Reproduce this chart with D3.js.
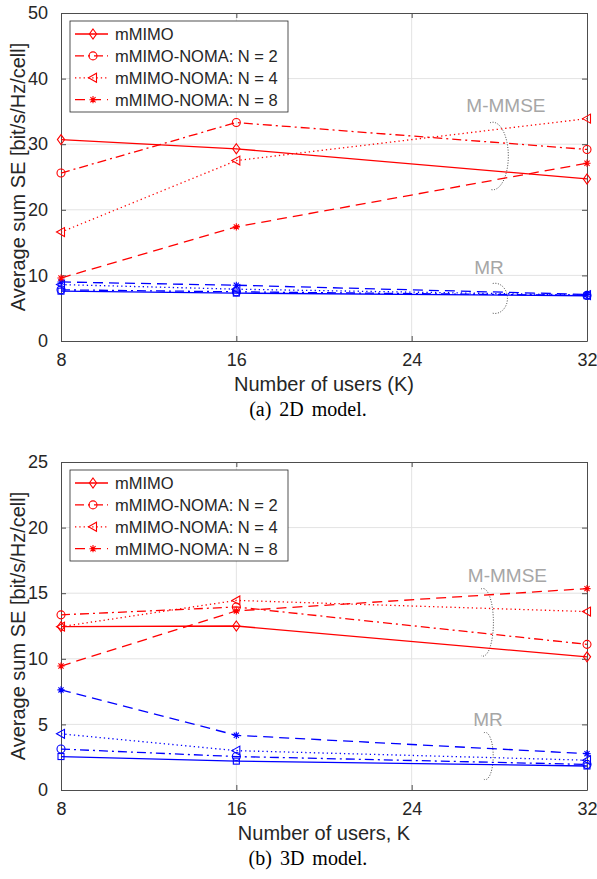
<!DOCTYPE html>
<html>
<head>
<meta charset="utf-8">
<script src="https://cdn.jsdelivr.net/npm/d3@7"></script>
<style>
  body { margin: 0; background: #fff; }
  svg { display: block; }
  text { font-family: "Liberation Sans", Arial, sans-serif; fill: #262626; }
</style>
</head>
<body>
<script>
const users = [8, 16, 32];
const xTicks = [8, 16, 24, 32];
const seriesNames = ["mMIMO", "mMIMO-NOMA: N = 2", "mMIMO-NOMA: N = 4", "mMIMO-NOMA: N = 8"];

// (a) 2D model — M-MMSE (red), one row per series
const mmse2D = [
	[30.7, 29.3, 24.7],
	[25.6, 33.3, 29.2],
	[16.6, 27.5, 33.9],
	[9.6, 17.4, 27.1]
];
// (a) 2D model — MR (blue)
const mr2D = [
	[7.6, 7.3, 6.9],
	[7.8, 7.5, 6.95],
	[8.6, 7.9, 7.0],
	[9.0, 8.5, 7.1]
];
// (b) 3D model — M-MMSE (red)
const mmse3D = [
	[12.45, 12.5, 10.15],
	[13.35, 13.95, 11.1],
	[12.45, 14.45, 13.6],
	[9.45, 13.65, 15.35]
];
// (b) 3D model — MR (blue)
const mr3D = [
	[2.55, 2.2, 1.83],
	[3.12, 2.55, 1.95],
	[4.28, 3.0, 2.27],
	[7.63, 4.17, 2.77]
];

const yTicks2D = [0, 10, 20, 30, 40, 50];
const yTicks3D = [0, 5, 10, 15, 20, 25];

// annotation ellipses (data coords)
const annot2D = [
	{ label: "M-MMSE", cx: 27.7, cy: 28.2, rx: 0.71, ry: 5.15, tx: 28.3, ty: 34.95 },
	{ label: "MR", cx: 27.8, cy: 6.5, rx: 0.57, ry: 2.3, tx: 27.53, ty: 10.2 }
];
const annot3D = [
	{ label: "M-MMSE", cx: 27.25, cy: 12.78, rx: 0.48, ry: 2.58, tx: 28.37, ty: 15.88 },
	{ label: "MR", cx: 27.36, cy: 2.59, rx: 0.36, ry: 1.8, tx: 27.48, ty: 4.9 }
];

const W = 597, H = 879;
const left = 61, right = 587;

const dashes = [null, "9,4,2,4", "1.3,3", "10,6"];
const redMarkers = ["diamond", "circle", "triangle", "asterisk"];
const blueMarkers = ["square", "circle", "triangle", "asterisk"];

const svg = d3.select("body").append("svg")
	.attr("width", W)
	.attr("height", H);

const drawMarker = (g, type, x, y, color) => {
	if (type === "diamond") {
		g.append("path").attr("d", `M${x},${y - 5}L${x + 3.6},${y}L${x},${y + 5}L${x - 3.6},${y}Z`)
			.attr("fill", "none").attr("stroke", color).attr("stroke-width", 1.1);
	} else if (type === "circle") {
		g.append("circle").attr("cx", x).attr("cy", y).attr("r", 4)
			.attr("fill", "none").attr("stroke", color).attr("stroke-width", 1.1);
	} else if (type === "square") {
		g.append("rect").attr("x", x - 3).attr("y", y - 3).attr("width", 6).attr("height", 6)
			.attr("fill", "none").attr("stroke", color).attr("stroke-width", 1.1);
	} else if (type === "triangle") {
		g.append("path").attr("d", `M${x - 4.5},${y}L${x + 3.5},${y - 4.5}L${x + 3.5},${y + 4.5}Z`)
			.attr("fill", "none").attr("stroke", color).attr("stroke-width", 1.1);
	} else if (type === "asterisk") {
		const r = 3.6, d = r * 0.72;
		g.append("path")
			.attr("d", `M${x - r},${y}L${x + r},${y}M${x},${y - r}L${x},${y + r}M${x - d},${y - d}L${x + d},${y + d}M${x - d},${y + d}L${x + d},${y - d}`)
			.attr("stroke", color).attr("stroke-width", 1.1);
	}
};

const drawPanel = (cfg) => {
	const g = svg.append("g");
	const x = d3.scaleLinear().domain([8, 32]).range([left, right]);
	const y = d3.scaleLinear().domain([0, cfg.yMax]).range([cfg.bottom, cfg.top]);

	// grid
	g.append("g").selectAll("line").data(xTicks.slice(1, -1)).join("line")
		.attr("x1", (d) => x(d)).attr("x2", (d) => x(d))
		.attr("y1", cfg.top).attr("y2", cfg.bottom)
		.attr("stroke", "#e3e3e3").attr("stroke-width", 1);
	g.append("g").selectAll("line").data(cfg.yTicks.slice(1, -1)).join("line")
		.attr("x1", left).attr("x2", right)
		.attr("y1", (d) => y(d)).attr("y2", (d) => y(d))
		.attr("stroke", "#e3e3e3").attr("stroke-width", 1);

	// axes with inward ticks
	const axB = g.append("g").attr("transform", `translate(0,${cfg.bottom})`)
		.call(d3.axisBottom(x).tickValues(xTicks).tickSizeInner(-5).tickSizeOuter(0).tickPadding(12));
	const axT = g.append("g").attr("transform", `translate(0,${cfg.top})`)
		.call(d3.axisTop(x).tickValues(xTicks).tickSizeInner(-5).tickSizeOuter(0).tickFormat(""));
	const axL = g.append("g").attr("transform", `translate(${left},0)`)
		.call(d3.axisLeft(y).tickValues(cfg.yTicks).tickSizeInner(-5).tickSizeOuter(0).tickPadding(13));
	const axR = g.append("g").attr("transform", `translate(${right},0)`)
		.call(d3.axisRight(y).tickValues(cfg.yTicks).tickSizeInner(-5).tickSizeOuter(0).tickFormat(""));
	[axB, axT, axL, axR].forEach((a) => {
		a.select(".domain").attr("stroke", "#4d4d4d");
		a.selectAll(".tick line").attr("stroke", "#4d4d4d");
		a.selectAll("text").attr("font-size", 18).attr("fill", "#262626")
			.attr("font-family", "Liberation Sans, Arial, sans-serif");
	});

	// annotations
	cfg.annot.forEach((a) => {
		const pts = [];
		for (let t = -100; t <= 100; t += 4) {
			const r = (t * Math.PI) / 180;
			pts.push([x(a.cx) + (x(a.cx + a.rx) - x(a.cx)) * Math.cos(r),
				y(a.cy) + (y(a.cy - a.ry) - y(a.cy)) * Math.sin(r)]);
		}
		g.append("path").attr("d", d3.line().curve(d3.curveCatmullRom)(pts))
			.attr("fill", "none").attr("stroke", "#444").attr("stroke-width", 1)
			.attr("stroke-dasharray", "1,1.6");
		g.append("text").attr("x", x(a.tx)).attr("y", y(a.ty))
			.attr("text-anchor", "middle").attr("font-size", 19)
			.style("fill", "#a6a6a6").text(a.label);
	});

	// series
	const line = d3.line().x((d, i) => x(users[i])).y((d) => y(d));
	const groups = [
		{ data: cfg.blue, color: "#0000ff", markers: blueMarkers },
		{ data: cfg.red, color: "#ff0000", markers: redMarkers }
	];
	groups.forEach((grp) => {
		grp.data.forEach((vals, s) => {
			g.append("path").attr("d", line(vals))
				.attr("fill", "none").attr("stroke", grp.color).attr("stroke-width", 1.3)
				.attr("stroke-dasharray", dashes[s]);
			vals.forEach((v, i) => drawMarker(g, grp.markers[s], x(users[i]), y(v), grp.color));
		});
	});

	// legend
	const lg = g.append("g").attr("transform", `translate(${left + 9},${cfg.top + 8})`);
	lg.append("rect").attr("width", 218).attr("height", 91)
		.attr("fill", "#fff").attr("stroke", "#262626").attr("stroke-width", 0.8);
	seriesNames.forEach((name, s) => {
		const ly = 13 + s * 21.9;
		lg.append("line").attr("x1", 5).attr("x2", 38).attr("y1", ly).attr("y2", ly)
			.attr("stroke", "#ff0000").attr("stroke-width", 1.3).attr("stroke-dasharray", dashes[s]);
		drawMarker(lg, redMarkers[s], 23, ly, "#ff0000");
		lg.append("text").attr("x", 45).attr("y", ly + 6).attr("font-size", 16.5).text(name);
	});

	// labels
	g.append("text").attr("x", (left + right) / 2).attr("y", cfg.bottom + 50)
		.attr("text-anchor", "middle").attr("font-size", 20).text(cfg.xLabel);
	g.append("text").attr("transform", `translate(25,${(cfg.top + cfg.bottom) / 2}) rotate(-90)`)
		.attr("text-anchor", "middle").attr("font-size", 20).text("Average sum SE [bit/s/Hz/cell]");
	g.append("text").attr("x", 308).attr("y", cfg.bottom + 75)
		.attr("text-anchor", "middle").attr("font-size", 20)
		.style("font-family", "Liberation Serif, Times New Roman, serif")
		.style("fill", "#000").style("word-spacing", "3px").text(cfg.caption);
};

drawPanel({
	top: 13, bottom: 341, yMax: 50, yTicks: yTicks2D,
	red: mmse2D, blue: mr2D, annot: annot2D,
	xLabel: "Number of users (K)", caption: "(a) 2D model."
});
drawPanel({
	top: 462, bottom: 790, yMax: 25, yTicks: yTicks3D,
	red: mmse3D, blue: mr3D, annot: annot3D,
	xLabel: "Number of users, K", caption: "(b) 3D model."
});
</script>
</body>
</html>
